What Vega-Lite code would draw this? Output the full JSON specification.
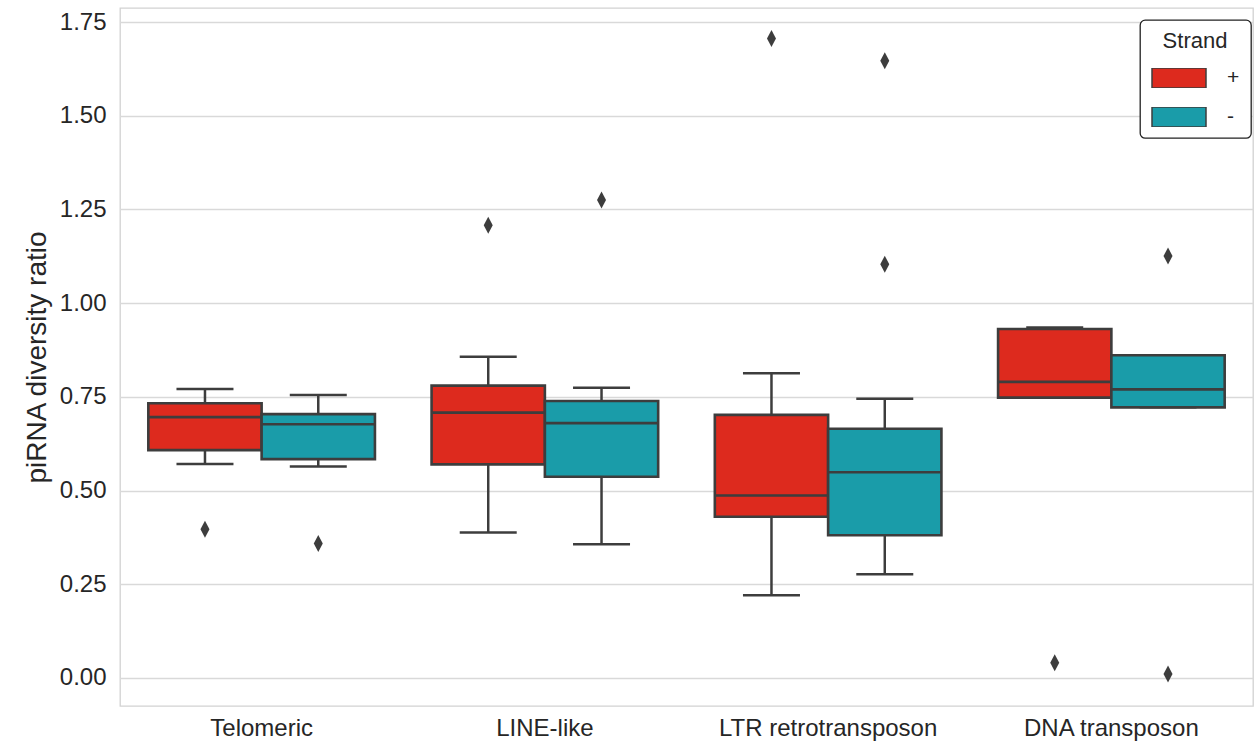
{
  "$schema": "https://vega.github.io/schema/vega-lite/v6.json",
  "width": 1133,
  "height": 698,
  "autosize": "none",
  "padding": {"left": 120, "top": 8, "right": 2, "bottom": 42},
  "background": "white",
  "datasets": {
    "boxes": [
      {"Type": "Telomeric", "Strand": "+", "lo": 0.571, "q1": 0.608, "med": 0.696, "q3": 0.733, "hi": 0.771},
      {"Type": "Telomeric", "Strand": "-", "lo": 0.564, "q1": 0.584, "med": 0.677, "q3": 0.704, "hi": 0.755},
      {"Type": "LINE-like", "Strand": "+", "lo": 0.388, "q1": 0.570, "med": 0.708, "q3": 0.780, "hi": 0.857},
      {"Type": "LINE-like", "Strand": "-", "lo": 0.357, "q1": 0.537, "med": 0.680, "q3": 0.739, "hi": 0.774},
      {"Type": "LTR retrotransposon", "Strand": "+", "lo": 0.221, "q1": 0.430, "med": 0.487, "q3": 0.702, "hi": 0.813},
      {"Type": "LTR retrotransposon", "Strand": "-", "lo": 0.277, "q1": 0.381, "med": 0.549, "q3": 0.665, "hi": 0.745},
      {"Type": "DNA transposon", "Strand": "+", "lo": 0.748, "q1": 0.748, "med": 0.790, "q3": 0.931, "hi": 0.935},
      {"Type": "DNA transposon", "Strand": "-", "lo": 0.722, "q1": 0.722, "med": 0.770, "q3": 0.861, "hi": 0.861}
    ],
    "outliers": [
      {"Type": "Telomeric", "Strand": "+", "value": 0.397},
      {"Type": "Telomeric", "Strand": "-", "value": 0.359},
      {"Type": "LINE-like", "Strand": "+", "value": 1.208},
      {"Type": "LINE-like", "Strand": "-", "value": 1.275},
      {"Type": "LTR retrotransposon", "Strand": "+", "value": 1.706},
      {"Type": "LTR retrotransposon", "Strand": "-", "value": 1.647},
      {"Type": "LTR retrotransposon", "Strand": "-", "value": 1.104},
      {"Type": "DNA transposon", "Strand": "+", "value": 0.041},
      {"Type": "DNA transposon", "Strand": "-", "value": 1.126},
      {"Type": "DNA transposon", "Strand": "-", "value": 0.011}
    ]
  },
  "encoding": {
    "x": {
      "field": "Type",
      "type": "nominal",
      "sort": ["Telomeric", "LINE-like", "LTR retrotransposon", "DNA transposon"],
      "scale": {"paddingInner": 0.2, "paddingOuter": 0.1},
      "axis": {
        "title": null,
        "labelAngle": 0,
        "labelFontSize": 24,
        "labelLimit": 0,
        "labelPadding": 10,
        "ticks": false,
        "domain": false,
        "grid": false
      }
    },
    "xOffset": {
      "field": "Strand",
      "type": "nominal",
      "sort": ["+", "-"],
      "scale": {"paddingInner": 0, "paddingOuter": 0}
    }
  },
  "layer": [
    {
      "data": {"name": "boxes"},
      "mark": {"type": "rule", "color": "#3d3d3d", "strokeWidth": 2.5},
      "encoding": {
        "y": {
          "field": "lo",
          "type": "quantitative",
          "scale": {"domain": [-0.0747, 1.7874], "nice": false, "zero": false},
          "axis": {
            "title": "piRNA diversity ratio",
            "titleFontSize": 28,
            "titleFontWeight": "normal",
            "titlePadding": 8,
            "values": [0, 0.25, 0.5, 0.75, 1, 1.25, 1.5, 1.75],
            "format": ".2f",
            "labelFontSize": 24,
            "labelPadding": 14,
            "ticks": false,
            "domain": false,
            "grid": true
          }
        },
        "y2": {"field": "hi"}
      }
    },
    {
      "data": {"name": "boxes"},
      "mark": {"type": "tick", "orient": "horizontal", "color": "#3d3d3d", "size": 57, "thickness": 2.5, "opacity": 1},
      "encoding": {"y": {"field": "lo", "type": "quantitative"}}
    },
    {
      "data": {"name": "boxes"},
      "mark": {"type": "tick", "orient": "horizontal", "color": "#3d3d3d", "size": 57, "thickness": 2.5, "opacity": 1},
      "encoding": {"y": {"field": "hi", "type": "quantitative"}}
    },
    {
      "data": {"name": "boxes"},
      "mark": {"type": "bar", "stroke": "#3d3d3d", "strokeWidth": 2.6, "opacity": 1},
      "encoding": {
        "y": {"field": "q1", "type": "quantitative"},
        "y2": {"field": "q3"},
        "fill": {
          "field": "Strand",
          "type": "nominal",
          "scale": {"domain": ["+", "-"], "range": ["#dd2a1e", "#1a9ca9"]},
          "legend": {
            "title": "Strand",
            "orient": "none",
            "legendX": 1020,
            "legendY": 12,
            "titleFontSize": 22,
            "titleFontWeight": "normal",
            "titleAnchor": "middle",
            "titlePadding": 15,
            "labelFontSize": 21,
            "labelOffset": 20,
            "symbolType": "M-1,-0.37H1V0.37H-1Z",
            "symbolSize": 2916,
            "symbolStrokeColor": "#3d3d3d",
            "symbolStrokeWidth": 1.5,
            "symbolOpacity": 1,
            "clipHeight": 20,
            "rowPadding": 18,
            "padding": 11,
            "strokeColor": "#222222",
            "cornerRadius": 5,
            "fillColor": "white",
            "encode": {"legend": {"update": {"strokeWidth": {"value": 1.3}}}}
          }
        }
      }
    },
    {
      "data": {"name": "boxes"},
      "mark": {"type": "bar", "fill": null, "stroke": "#3d3d3d", "strokeWidth": 2.6, "opacity": 1},
      "encoding": {
        "y": {"field": "med", "type": "quantitative"},
        "y2": {"field": "med"}
      }
    },
    {
      "data": {"name": "outliers"},
      "mark": {
        "type": "point",
        "shape": "M0,-1L0.53,0L0,1L-0.53,0Z",
        "size": 289,
        "filled": true,
        "color": "#3d3d3d",
        "opacity": 1
      },
      "encoding": {"y": {"field": "value", "type": "quantitative"}}
    }
  ],
  "config": {
    "font": "Liberation Sans",
    "view": {"stroke": "#d2d2d2", "strokeWidth": 1.3},
    "axis": {
      "labelColor": "#262626",
      "titleColor": "#262626",
      "gridColor": "#d9d9d9",
      "gridWidth": 1.3
    },
    "legend": {"labelColor": "#262626", "titleColor": "#262626"}
  }
}
